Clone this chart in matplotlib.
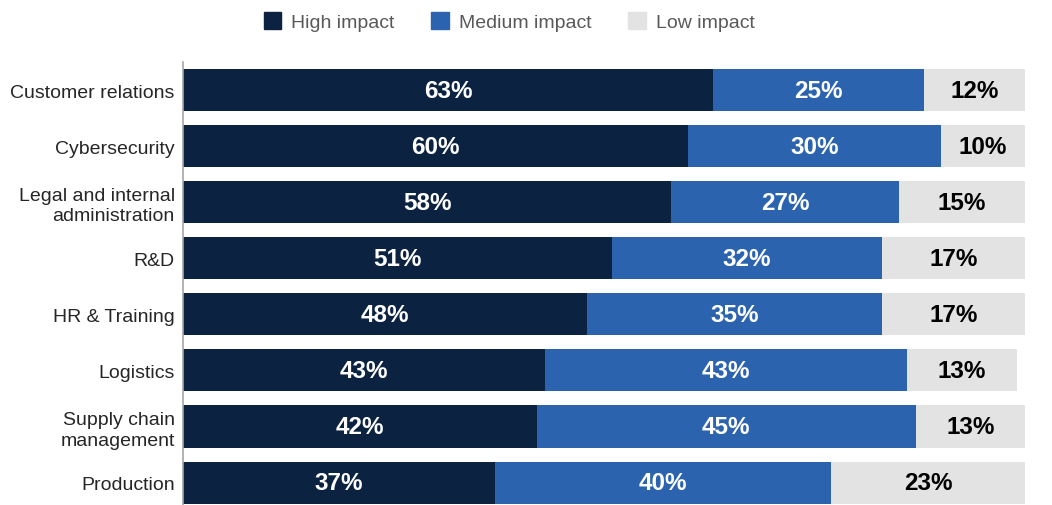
import matplotlib.pyplot as plt
from matplotlib.patches import Patch

plt.rcParams['font.family'] = ['Liberation Sans', 'DejaVu Sans']

# data
areas = ["Customer relations", "Cybersecurity", "Legal and internal\nadministration",
         "R&D", "HR & Training", "Logistics", "Supply chain\nmanagement", "Production"]
high = [63, 60, 58, 51, 48, 43, 42, 37]
medium = [25, 30, 27, 32, 35, 43, 45, 40]
low = [12, 10, 15, 17, 17, 13, 13, 23]

series = [("High impact", high, "#0b2341", "white"),
          ("Medium impact", medium, "#2b63ae", "white"),
          ("Low impact", low, "#e3e3e3", "black")]

fig = plt.figure(figsize=(10.52, 5.06), dpi=100)
ax = fig.add_axes([0.174, 0.0, 0.8003, 0.8755])

y = list(range(len(areas)))
left = [0] * len(areas)
for name, vals, color, tcolor in series:
    bars = ax.barh(y, vals, left=left, height=0.75, color=color, label=name)
    for b, v in zip(bars, vals):
        ax.text(b.get_x() + b.get_width() / 2, b.get_y() + b.get_height() / 2,
                f"{v}%", ha="center", va="center", color=tcolor,
                fontsize=17.5, fontweight="bold")
    left = [l + v for l, v in zip(left, vals)]

ax.set_xlim(0, 100)
ax.set_ylim(7.4, -0.5)
ax.set_yticks(y)
ax.set_yticklabels(areas, fontsize=14, color="#262626", linespacing=1.25)
ax.set_xticks([])
ax.tick_params(axis="y", length=0, pad=6)
for s in ["top", "right", "bottom"]:
    ax.spines[s].set_visible(False)
ax.spines["left"].set_color("#a6a6a6")
ax.spines["left"].set_linewidth(1.2)

handles = [Patch(color=c, label=n) for n, _, c, _ in series]
leg = fig.legend(handles=handles, loc="upper center", bbox_to_anchor=(0.484, 1.008),
                 ncol=3, frameon=False, fontsize=14, handlelength=0.9,
                 handleheight=0.9, handletextpad=0.5, columnspacing=1.9)
for t in leg.get_texts():
    t.set_color("#595959")

fig.savefig("out.png", dpi=100)
